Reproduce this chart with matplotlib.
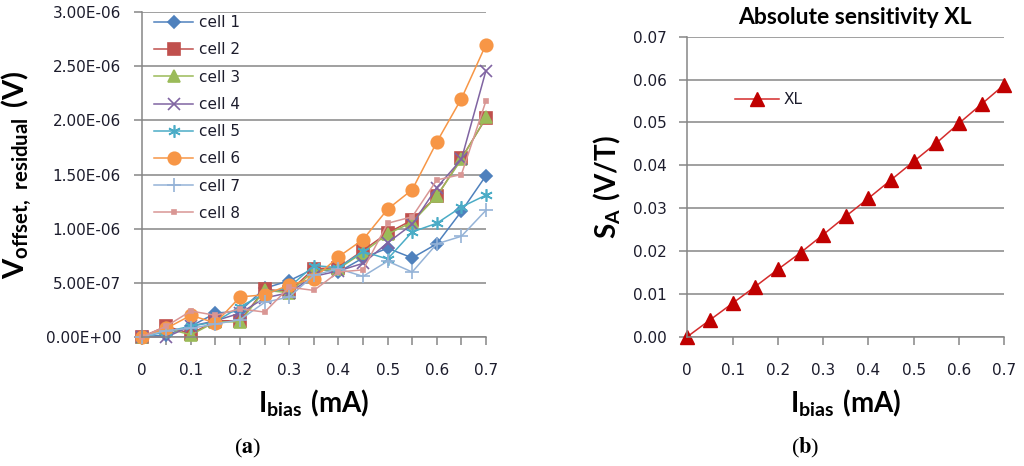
import numpy as np
import matplotlib
matplotlib.use("Agg")
import matplotlib.pyplot as plt
from matplotlib.ticker import FixedLocator, FuncFormatter

plt.rcParams['font.family'] = ['DejaVu Sans']
plt.rcParams['mathtext.fontset'] = 'custom'
plt.rcParams['mathtext.rm'] = 'Lato'
plt.rcParams['mathtext.bf'] = 'Lato:bold'

# ---- data (a): residual offset per cell ----
ibias = [0, 0.05, 0.1, 0.15, 0.2, 0.25, 0.3, 0.35, 0.4, 0.45, 0.5, 0.55, 0.6, 0.65, 0.7]
cell1 = np.array([0, 0.2, 1.0, 2.2, 2.4, 4.5, 5.2, 6.3, 6.0, 7.3, 8.2, 7.3, 8.6, 11.6, 14.9]) * 1e-7
cell2 = np.array([0, 1.0, 0.3, 1.5, 1.5, 4.4, 4.2, 6.3, 6.4, 8.0, 9.6, 10.8, 13.0, 16.5, 20.2]) * 1e-7
cell3 = np.array([0, 0.8, 0.2, 1.4, 1.4, 4.3, 4.1, 6.1, 6.3, 7.8, 9.5, 10.6, 13.0, 16.4, 20.3]) * 1e-7
cell4 = np.array([0, 0.0, 1.0, 1.5, 2.2, 3.6, 4.1, 5.6, 6.1, 6.8, 8.7, 10.4, 13.8, 16.4, 24.6]) * 1e-7
cell5 = np.array([0, 0.5, 1.0, 1.4, 2.8, 4.0, 4.6, 6.6, 6.4, 7.9, 7.2, 9.7, 10.5, 12.0, 13.1]) * 1e-7
cell6 = np.array([0, 0.8, 2.0, 1.3, 3.7, 3.9, 4.8, 5.4, 7.4, 9.0, 11.8, 13.6, 18.0, 22.0, 27.0]) * 1e-7
cell7 = np.array([0, 0.6, 0.8, 1.2, 1.6, 3.2, 3.7, 5.7, 6.3, 5.6, 7.0, 6.0, 8.6, 9.3, 11.7]) * 1e-7
cell8 = np.array([0, 1.0, 2.4, 2.0, 2.6, 2.3, 4.6, 4.3, 6.0, 6.2, 10.5, 11.1, 14.5, 15.0, 21.8]) * 1e-7

# ---- data (b): absolute sensitivity XL ----
xl = [0, 0.0039, 0.0078, 0.0117, 0.0157, 0.0196, 0.0238, 0.0281, 0.0323, 0.0366, 0.0409, 0.0452, 0.0498, 0.0543, 0.0588]

GRID = '#868686'
TXT = '#1c1c2c'

fig = plt.figure(figsize=(10.24, 4.66), dpi=100)
ax1 = fig.add_axes([0.1384, 0.2768, 0.3362, 0.6974])
ax2 = fig.add_axes([0.6712, 0.2775, 0.3096, 0.6438])

def style(ax):
    for s in ['top', 'right']:
        ax.spines[s].set_visible(False)
    for s in ['left', 'bottom']:
        ax.spines[s].set_color(GRID)
        ax.spines[s].set_linewidth(1.1)
    ax.yaxis.grid(True, color=GRID, linewidth=1.1)
    ax.set_axisbelow(True)
    ax.tick_params(direction='out', length=6, width=1.1, color=GRID,
                   labelsize=11, labelcolor=TXT)
    ax.tick_params(axis='y', pad=9)
    ax.tick_params(axis='x', pad=13)

# ---- panel (a) ----
series = [
    (cell1, 'cell 1', '#4F81BD', 'D', 6),
    (cell2, 'cell 2', '#C0504D', 's', 8),
    (cell3, 'cell 3', '#9BBB59', '^', 8),
    (cell4, 'cell 4', '#8064A2', 'x', 8),
    (cell5, 'cell 5', '#4BACC6', (6, 2, 0), 9),
    (cell6, 'cell 6', '#F79646', 'o', 9),
    (cell7, 'cell 7', '#95B3D7', '+', 10),
    (cell8, 'cell 8', '#D99694', 's', 3.5),
]
for vals, name, col, mk, ms in series:
    ax1.plot(ibias, vals, color=col, linewidth=1.1, marker=mk, markersize=ms,
             markerfacecolor=col, markeredgecolor=col, markeredgewidth=1.2, label=name)

style(ax1)
ax1.set_xlim(0, 0.7)
ax1.set_ylim(0, 3e-6)
ax1.xaxis.set_major_locator(FixedLocator(ibias))
ax1.xaxis.set_major_formatter(FuncFormatter(
    lambda v, p: ('0' if p == 0 else '%g' % round(v, 2)) if p % 2 == 0 else ''))
ax1.set_yticks(np.arange(0, 3.01e-6, 5e-7))
ax1.yaxis.set_major_formatter(FuncFormatter(lambda v, p: '%.2E' % v))

ax1.set_ylabel(r'$\mathbf{V_{offset,\ residual}\ (V)}$', fontsize=21, labelpad=8)
ax1.set_xlabel(r'$\mathbf{I_{bias}\ (mA)}$', fontsize=20, labelpad=7)

ax1.legend(loc='upper left', bbox_to_anchor=(0.035, 0.99), frameon=False,
           fontsize=11, labelspacing=0.8, handlelength=2.6, handletextpad=0.35,
           borderpad=0, borderaxespad=0, labelcolor=TXT)

# ---- panel (b) ----
ax2.plot(ibias, xl, color='#D42B2B', linewidth=1.1, marker='^', markersize=9.5,
         markerfacecolor='#C00000', markeredgecolor='#C00000', label='XL')
style(ax2)
ax2.set_xlim(0, 0.7)
ax2.set_ylim(0, 0.07)
ax2.set_xticks(np.arange(0, 0.71, 0.1))
ax2.xaxis.set_major_formatter(FuncFormatter(lambda v, p: '0' if p == 0 else '%g' % round(v, 2)))
ax2.set_yticks(np.arange(0, 0.0701, 0.01))
ax2.yaxis.set_major_formatter(FuncFormatter(lambda v, p: '%.2f' % v))
ax2.set_ylabel(r'$\mathbf{S_A\ (V/T)}$', fontsize=20, labelpad=7)
ax2.set_xlabel(r'$\mathbf{I_{bias}\ (mA)}$', fontsize=20, labelpad=7)
ax2.set_title('Absolute sensitivity XL', fontsize=16.5, fontweight='bold',
              family='Lato', pad=9, x=0.53)
ax2.legend(loc='upper left', bbox_to_anchor=(0.15, 0.815), frameon=False,
           fontsize=11, handlelength=2.9, handletextpad=0.3,
           borderpad=0, borderaxespad=0, labelcolor=TXT)
for a in (ax1, ax2):
    for ln in a.lines:
        ln.set_clip_on(False)

# panel letters
for xc, letter in ((0.242, 'a'), (0.786, 'b')):
    fig.text(xc, 0.038, '(' + r'$\mathbf{%s}$' % letter + ')', ha='center', va='center',
             fontsize=16, family='Liberation Serif', math_fontfamily='stix')

fig.savefig('out.png', dpi=100, facecolor='white')
